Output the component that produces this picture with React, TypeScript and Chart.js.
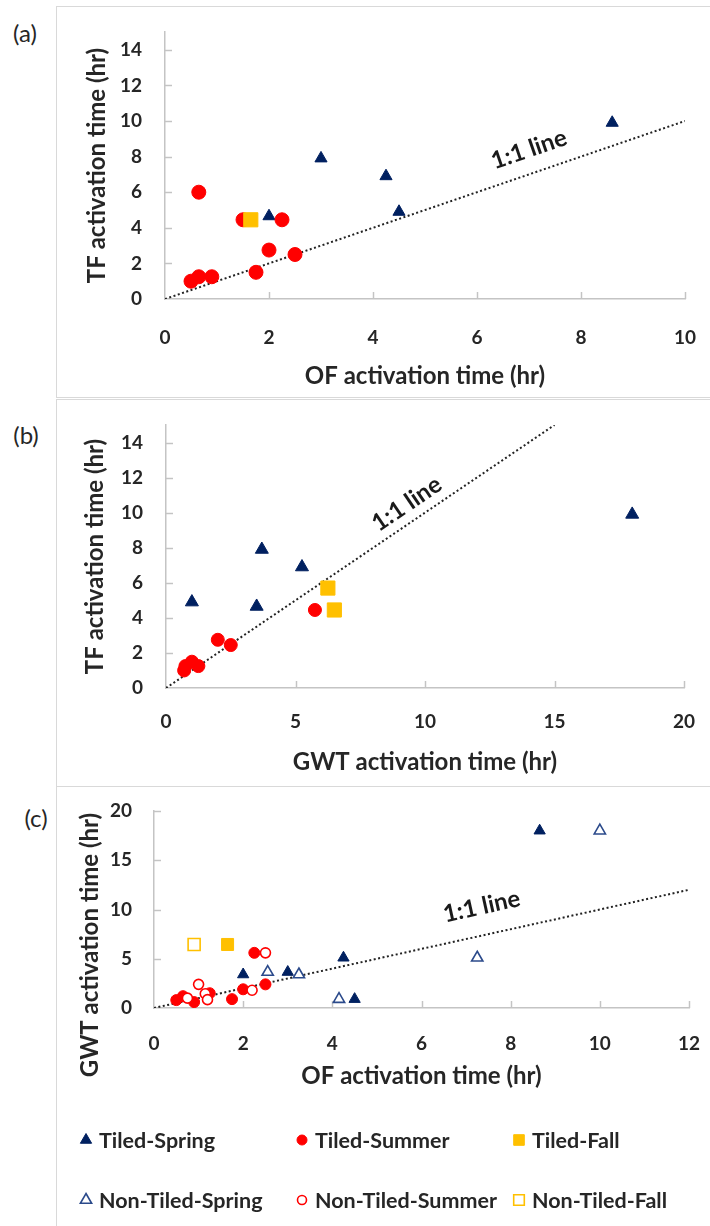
import React, { useEffect, useRef } from "react";
import { Chart, registerables } from "chart.js";

Chart.register(...registerables);

// ---------------- DATA ----------------
// Panel (a): OF activation time (x) vs TF activation time (y)
const A_SPRING_OF = [2.0, 3.0, 4.25, 4.5, 8.6];
const A_SPRING_TF = [4.65, 7.9, 6.9, 4.9, 9.9];
const A_SUMMER_OF = [0.5, 0.65, 0.9, 1.75, 2.0, 2.5, 1.5, 2.25, 0.65];
const A_SUMMER_TF = [1.0, 1.25, 1.25, 1.5, 2.75, 2.5, 4.45, 4.45, 6.0];
const A_FALL_OF = [1.65];
const A_FALL_TF = [4.45];

// Panel (b): GWT activation time (x) vs TF activation time (y)
const B_SPRING_GWT = [1.0, 3.7, 5.25, 3.5, 18.0];
const B_SPRING_TF = [4.9, 7.9, 6.9, 4.65, 9.9];
const B_SUMMER_GWT = [0.7, 0.75, 1.0, 1.25, 2.0, 2.5, 5.75];
const B_SUMMER_TF = [1.0, 1.25, 1.5, 1.25, 2.75, 2.45, 4.45];
const B_FALL_GWT = [6.25, 6.5];
const B_FALL_TF = [5.7, 4.45];

// Panel (c): OF activation time (x) vs GWT activation time (y)
const C_TSPRING_OF = [2.0, 3.0, 4.25, 4.5, 8.65];
const C_TSPRING_GWT = [3.4, 3.65, 5.1, 0.9, 18.0];
const C_TSUMMER_OF = [0.5, 0.65, 0.9, 1.25, 1.75, 2.0, 2.5, 2.25];
const C_TSUMMER_GWT = [0.8, 1.2, 0.6, 1.5, 0.9, 1.9, 2.4, 5.6];
const C_TFALL_OF = [1.65];
const C_TFALL_GWT = [6.45];
const C_NSPRING_OF = [2.55, 3.25, 4.15, 7.25, 10.0];
const C_NSPRING_GWT = [3.65, 3.4, 0.9, 5.1, 18.0];
const C_NSUMMER_OF = [0.75, 1.0, 1.15, 1.2, 2.2, 2.5];
const C_NSUMMER_GWT = [1.0, 2.4, 1.45, 0.85, 1.8, 5.6];
const C_NFALL_OF = [0.9];
const C_NFALL_GWT = [6.45];

// 1:1 line extents and label anchors (data units)
const A_LINE = [0, 10];
const B_LINE = [0, 15];
const C_LINE = [0, 12];
const A_LABEL_AT = [7.0, 8.4];
const B_LABEL_AT = [9.3, 10.5];
const C_LABEL_AT = [7.35, 10.3];

const SERIES_NAMES = [
  "Tiled-Spring",
  "Tiled-Summer",
  "Tiled-Fall",
  "Non-Tiled-Spring",
  "Non-Tiled-Summer",
  "Non-Tiled-Fall",
];

// ---------------- STYLE ----------------
const FONT = "Lato, 'Open Sans', sans-serif";
const TEXT = "#262626";
const AXIS = "#c4c4c4";
const NAVY = "#002060";
const RED = "#ff0000";
const GOLD = "#ffc000";
const OPEN_BLUE = "#2b4a8b";
const PANEL_BORDER = "#d9d9d9";
const TICK_SIZE = 19;
const TITLE_SIZE = 24;

const pts = (xs: number[], ys: number[]) => xs.map((x, i) => ({ x, y: ys[i] }));

const insideTicks = {
  id: "insideTicks",
  beforeDatasetsDraw(chart: any) {
    const { ctx, chartArea, scales } = chart;
    const len = 7;
    ctx.save();
    ctx.strokeStyle = AXIS;
    ctx.lineWidth = 1.5;
    scales.x.ticks.forEach((t: any) => {
      if (t.value <= scales.x.min) return;
      const px = Math.round(scales.x.getPixelForValue(t.value)) + 0.5;
      ctx.beginPath();
      ctx.moveTo(px, chartArea.bottom);
      ctx.lineTo(px, chartArea.bottom - len);
      ctx.stroke();
    });
    scales.y.ticks.forEach((t: any) => {
      if (t.value <= scales.y.min) return;
      const py = Math.round(scales.y.getPixelForValue(t.value)) + 0.5;
      ctx.beginPath();
      ctx.moveTo(chartArea.left, py);
      ctx.lineTo(chartArea.left + len, py);
      ctx.stroke();
    });
    ctx.restore();
  },
};

const lineLabel = {
  id: "lineLabel",
  afterDatasetsDraw(chart: any, _args: any, opts: any) {
    if (!opts || !opts.text) return;
    const { ctx, scales } = chart;
    const xs = scales.x;
    const ys = scales.y;
    const x0 = xs.getPixelForValue(opts.from);
    const y0 = ys.getPixelForValue(opts.from);
    const x1 = xs.getPixelForValue(opts.to);
    const y1 = ys.getPixelForValue(opts.to);
    const ang = Math.atan2(y1 - y0, x1 - x0);
    ctx.save();
    ctx.translate(xs.getPixelForValue(opts.at[0]), ys.getPixelForValue(opts.at[1]));
    ctx.rotate(ang);
    ctx.font = `bold ${opts.size}px ${FONT}`;
    ctx.fillStyle = "#1a1a1a";
    ctx.textAlign = "center";
    ctx.textBaseline = "middle";
    ctx.fillText(opts.text, 0, 0);
    ctx.restore();
  },
};

// Rotated y-axis title placed at a fixed offset (used where the title is longer than the plot)
const yTitle = {
  id: "yTitle",
  afterDraw(chart: any, _args: any, opts: any) {
    if (!opts || !opts.text) return;
    const { ctx } = chart;
    ctx.save();
    ctx.translate(opts.x, opts.y);
    ctx.rotate(-Math.PI / 2);
    ctx.font = `bold ${TITLE_SIZE}px ${FONT}`;
    ctx.fillStyle = TEXT;
    ctx.textAlign = "center";
    ctx.textBaseline = "middle";
    ctx.fillText(opts.text, 0, 0);
    ctx.restore();
  },
};

function drawMarker(ctx: CanvasRenderingContext2D, style: string, r: number, x: number, y: number) {
  ctx.beginPath();
  if (style === "triangle") {
    for (let k = 0; k < 3; k++) {
      const a = (k * 2 * Math.PI) / 3;
      const px = x + Math.sin(a) * r;
      const py = y - Math.cos(a) * r;
      if (k === 0) ctx.moveTo(px, py);
      else ctx.lineTo(px, py);
    }
    ctx.closePath();
  } else if (style === "rect") {
    const s = Math.SQRT1_2 * r;
    ctx.rect(x - s, y - s, 2 * s, 2 * s);
  } else {
    ctx.arc(x, y, r, 0, Math.PI * 2);
  }
  ctx.fill();
  ctx.stroke();
}

const sheetLegend = {
  id: "sheetLegend",
  afterDraw(chart: any, _args: any, opts: any) {
    if (!opts || !opts.items) return;
    const { ctx } = chart;
    ctx.save();
    opts.items.forEach((it: any) => {
      const ds = chart.data.datasets[it.datasetIndex];
      const mx = opts.colX[it.col];
      const my = opts.rowY[it.row];
      ctx.fillStyle = ds.pointBackgroundColor;
      ctx.strokeStyle = ds.pointBorderColor;
      ctx.lineWidth = ds.pointBorderWidth;
      drawMarker(ctx, ds.pointStyle, it.r, mx, my);
      ctx.fillStyle = TEXT;
      ctx.font = `bold ${opts.size}px ${FONT}`;
      ctx.textAlign = "left";
      ctx.textBaseline = "middle";
      ctx.fillText(ds.label, mx + opts.textGap, my + 1);
    });
    ctx.restore();
  },
};

function markerSet(
  label: string,
  data: any[],
  style: string,
  fill: string,
  border: string,
  radius: number,
  borderWidth: number,
  order: number
) {
  return {
    label,
    data,
    pointStyle: style,
    pointRadius: radius,
    pointHoverRadius: radius,
    pointBackgroundColor: fill,
    pointBorderColor: border,
    pointBorderWidth: borderWidth,
    backgroundColor: fill,
    borderColor: border,
    showLine: false,
    order,
  };
}

function oneToOne(range: number[]) {
  return {
    label: "1:1 line",
    data: range.map((v) => ({ x: v, y: v })),
    showLine: true,
    borderColor: "#222222",
    borderWidth: 2,
    borderDash: [2, 2.5],
    pointRadius: 0,
    fill: false,
    order: 100,
  };
}

function axisCfg(opts: {
  min: number;
  max: number;
  step: number;
  title: string;
  pad: number;
  size: number;
  horizontal: boolean;
  showTitle?: boolean;
}) {
  return {
    type: "linear",
    min: opts.min,
    max: opts.max,
    ticks: {
      stepSize: opts.step,
      includeBounds: false,
      padding: opts.pad,
      color: TEXT,
      font: { family: FONT, size: TICK_SIZE, weight: "bold" },
    },
    grid: { display: true, drawOnChartArea: false, drawTicks: false },
    border: { display: true, color: AXIS, width: 1.5 },
    title: {
      display: opts.showTitle !== false,
      text: opts.title,
      color: TEXT,
      font: { family: FONT, size: TITLE_SIZE, weight: "bold" },
      padding: { top: 4, bottom: 4 },
    },
    afterFit: (s: any) => {
      if (opts.horizontal) s.height = opts.size;
      else s.width = opts.size;
      s.paddingTop = 0;
      s.paddingBottom = 0;
      s.paddingLeft = 0;
      s.paddingRight = 0;
    },
  };
}

function ChartCanvas(props: { config: any; width: number; height: number; left: number; top: number }) {
  const ref = useRef<HTMLCanvasElement | null>(null);
  useEffect(() => {
    if (!ref.current) return;
    const chart = new Chart(ref.current, props.config);
    return () => chart.destroy();
  }, []);
  return (
    <canvas
      ref={ref}
      width={props.width}
      height={props.height}
      style={{ position: "absolute", left: props.left, top: props.top, width: props.width, height: props.height }}
    />
  );
}

function baseOptions(extra: any) {
  return {
    responsive: false,
    animation: false,
    events: [],
    plugins: {
      legend: { display: false },
      tooltip: { enabled: false },
      ...extra.plugins,
    },
    layout: { padding: extra.padding },
    scales: extra.scales,
  };
}

const configA = {
  type: "scatter",
  data: {
    datasets: [
      markerSet(SERIES_NAMES[0], pts(A_SPRING_OF, A_SPRING_TF), "triangle", NAVY, NAVY, 7, 1, 3),
      markerSet(SERIES_NAMES[1], pts(A_SUMMER_OF, A_SUMMER_TF), "circle", RED, RED, 7, 1, 2),
      markerSet(SERIES_NAMES[2], pts(A_FALL_OF, A_FALL_TF), "rect", GOLD, GOLD, 10, 1, 1),
      oneToOne(A_LINE),
    ],
  },
  options: baseOptions({
    padding: { left: 23, right: 25, top: 26, bottom: 2 },
    plugins: {
      lineLabel: { text: "1:1 line", from: A_LINE[0], to: A_LINE[1], at: A_LABEL_AT, size: 24 },
    },
    scales: {
      x: axisCfg({ min: 0, max: 10, step: 2, title: "OF activation time (hr)", pad: 27, size: 96, horizontal: true }),
      y: axisCfg({ min: 0, max: 15, step: 2, title: "TF activation time (hr)", pad: 23, size: 86, horizontal: false }),
    },
  }),
  plugins: [insideTicks, lineLabel],
};

const configB = {
  type: "scatter",
  data: {
    datasets: [
      markerSet(SERIES_NAMES[0], pts(B_SPRING_GWT, B_SPRING_TF), "triangle", NAVY, NAVY, 7.5, 1, 3),
      markerSet(SERIES_NAMES[1], pts(B_SUMMER_GWT, B_SUMMER_TF), "circle", RED, RED, 6.5, 1, 2),
      markerSet(SERIES_NAMES[2], pts(B_FALL_GWT, B_FALL_TF), "rect", GOLD, GOLD, 10, 1, 1),
      oneToOne(B_LINE),
    ],
  },
  options: baseOptions({
    padding: { left: 21, right: 26, top: 26, bottom: 5 },
    plugins: {
      lineLabel: { text: "1:1 line", from: B_LINE[0], to: B_LINE[1], at: B_LABEL_AT, size: 24 },
    },
    scales: {
      x: axisCfg({ min: 0, max: 20, step: 5, title: "GWT activation time (hr)", pad: 22, size: 93, horizontal: true }),
      y: axisCfg({ min: 0, max: 15, step: 2, title: "TF activation time (hr)", pad: 23, size: 89, horizontal: false }),
    },
  }),
  plugins: [insideTicks, lineLabel],
};

const configC = {
  type: "scatter",
  data: {
    datasets: [
      markerSet(SERIES_NAMES[0], pts(C_TSPRING_OF, C_TSPRING_GWT), "triangle", NAVY, NAVY, 6.5, 1, 6),
      markerSet(SERIES_NAMES[1], pts(C_TSUMMER_OF, C_TSUMMER_GWT), "circle", RED, RED, 5.5, 1, 5),
      markerSet(SERIES_NAMES[2], pts(C_TFALL_OF, C_TFALL_GWT), "rect", GOLD, GOLD, 8.5, 1, 4),
      markerSet(SERIES_NAMES[3], pts(C_NSPRING_OF, C_NSPRING_GWT), "triangle", "#ffffff", OPEN_BLUE, 6.5, 1.6, 3),
      markerSet(SERIES_NAMES[4], pts(C_NSUMMER_OF, C_NSUMMER_GWT), "circle", "#ffffff", RED, 5, 1.6, 2),
      markerSet(SERIES_NAMES[5], pts(C_NFALL_OF, C_NFALL_GWT), "rect", "#ffffff", GOLD, 8.5, 1.6, 1),
      oneToOne(C_LINE),
    ],
  },
  options: baseOptions({
    padding: { left: 16, right: 21, top: 24, bottom: 131 },
    plugins: {
      lineLabel: { text: "1:1 line", from: C_LINE[0], to: C_LINE[1], at: C_LABEL_AT, size: 24 },
      yTitle: { text: "GWT activation time (hr)", x: 34, y: 158 },
      sheetLegend: {
        colX: [30, 246, 463],
        rowY: [353, 413],
        textGap: 13,
        size: 21.5,
        items: [
          { datasetIndex: 0, col: 0, row: 0, r: 6.5 },
          { datasetIndex: 1, col: 1, row: 0, r: 5 },
          { datasetIndex: 2, col: 2, row: 0, r: 7.5 },
          { datasetIndex: 3, col: 0, row: 1, r: 6.5 },
          { datasetIndex: 4, col: 1, row: 1, r: 4.5 },
          { datasetIndex: 5, col: 2, row: 1, r: 7.5 },
        ],
      },
    },
    scales: {
      x: axisCfg({ min: 0, max: 12, step: 2, title: "OF activation time (hr)", pad: 24, size: 87, horizontal: true }),
      y: axisCfg({
        min: 0,
        max: 20,
        step: 5,
        title: "GWT activation time (hr)",
        pad: 22,
        size: 82,
        horizontal: false,
        showTitle: false,
      }),
    },
  }),
  plugins: [insideTicks, lineLabel, yTitle, sheetLegend],
};

const panelLabel = (text: string, cx: number, cy: number) => (
  <div
    style={{
      position: "absolute",
      left: cx,
      top: cy,
      transform: "translate(-50%, -50%)",
      fontFamily: FONT,
      fontSize: 24,
      color: TEXT,
      whiteSpace: "nowrap",
      lineHeight: 1,
    }}
  >
    {text}
  </div>
);

const panelBox = (top: number, height: number) => (
  <div
    style={{
      position: "absolute",
      left: 56,
      top,
      width: 700,
      height,
      border: `1px solid ${PANEL_BORDER}`,
      boxSizing: "border-box",
    }}
  />
);

export default function App() {
  return (
    <div
      style={{
        position: "absolute",
        left: 0,
        top: 0,
        width: 710,
        height: 1226,
        overflow: "hidden",
        background: "#ffffff",
      }}
    >
      {panelBox(6, 392)}
      {panelBox(399, 388)}
      {panelBox(786, 460)}
      {panelLabel("(a)", 25, 33)}
      {panelLabel("(b)", 26, 435)}
      {panelLabel("(c)", 36, 818)}
      <ChartCanvas config={configA} width={654} height={391} left={56} top={6} />
      <ChartCanvas config={configB} width={654} height={387} left={56} top={399} />
      <ChartCanvas config={configC} width={654} height={439} left={56} top={787} />
    </div>
  );
}
